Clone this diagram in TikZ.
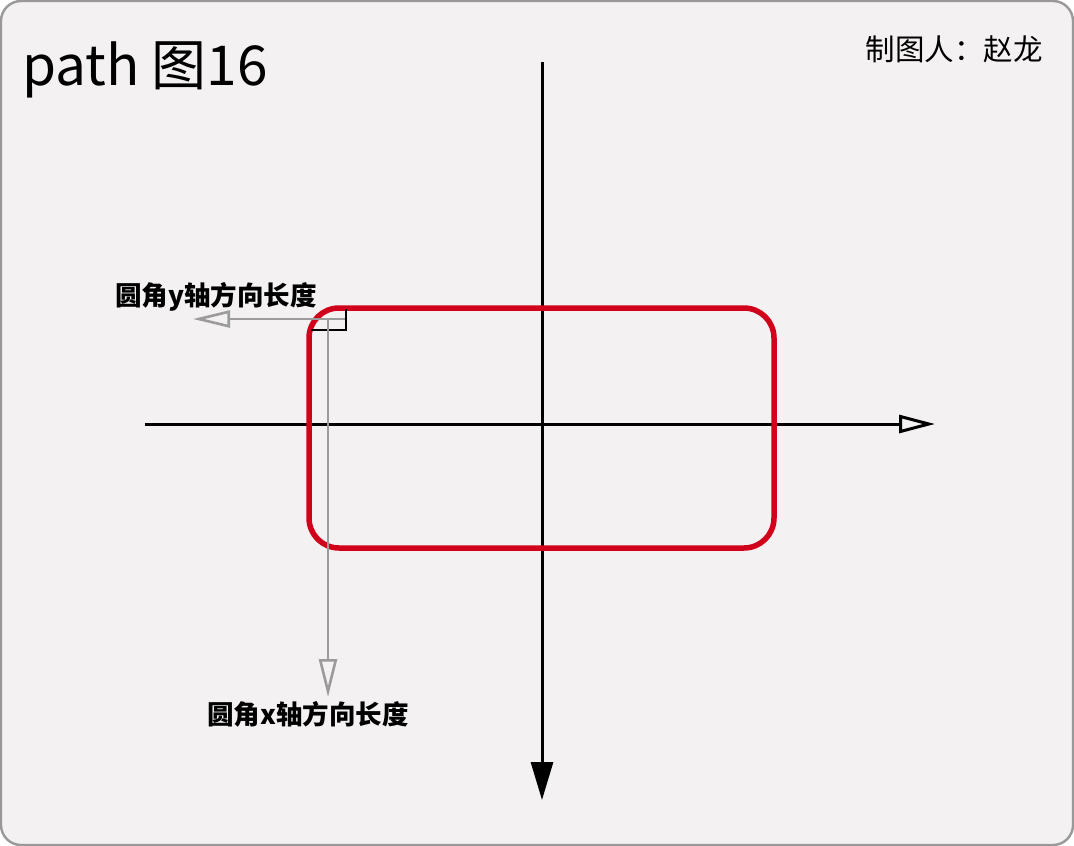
\documentclass[tikz,border=0pt]{standalone}
\usepackage{fontspec}
\setmainfont{Noto Sans CJK SC}
\usetikzlibrary{arrows.meta}
\definecolor{bgfill}{HTML}{F3F1F2}
\definecolor{frame}{HTML}{999999}
\definecolor{rectred}{HTML}{D0021B}
\definecolor{guide}{HTML}{9B9B9B}
\tikzset{
  axisline/.style={black, line width=3pt},
  guideline/.style={guide, line width=2.8pt},
  lbl/.style={font=\fontsize{26.5}{28}\selectfont\bfseries, inner sep=0pt, anchor=center},
}
\begin{document}
\begin{tikzpicture}[x=1pt,y=-1pt]
\useasboundingbox (0,0) rectangle (1074,846);
\draw[frame, line width=2.4pt, fill=bgfill, rounded corners=20pt] (1,1) rectangle (1073,845);
\node[inner sep=0pt, anchor=base west, font=\fontsize{55}{58}\selectfont] (title) at (22,85) {path 图16};
\node[inner sep=0pt, anchor=base east, font=\fontsize{29.5}{31}\selectfont] (author) at (1043,60) {制图人：赵龙};
% axes
\coordinate (vtop) at (542,62);
\coordinate (vbot) at (542,800);
\coordinate (hl) at (145,424);
\coordinate (hr) at (935,424);
\draw[axisline, -{Triangle[length=38pt, width=22pt]}] (vtop) -- (vbot);
\draw[axisline, -{Triangle[open, length=36pt, width=18pt, line width=3pt]}] (hl) -- (hr);
% rounded rectangle
\draw[rectred, line width=5.5pt, rounded corners=30pt] (309,308) rectangle (774,548);
% corner marker
\coordinate (c1) at (311,330);
\coordinate (c2) at (346,330);
\coordinate (c3) at (346,309);
\draw[black, line width=2.4pt] (c1) -- (c2) -- (c3);
% guides
\coordinate (gy0) at (345,319);
\coordinate (gy1) at (193,319);
\coordinate (gx0) at (328,320);
\coordinate (gx1) at (328,697);
\draw[guideline, -{Triangle[open, length=37pt, width=17pt, line width=2.6pt]}] (gy0) -- (gy1);
\draw[guideline, -{Triangle[open, length=38pt, width=18pt, line width=2.6pt]}] (gx0) -- (gx1);
\node[lbl] (ly) at (216,297) {圆角y轴方向长度};
\node[lbl] (lx) at (308,714) {圆角x轴方向长度};
\end{tikzpicture}
\end{document}
